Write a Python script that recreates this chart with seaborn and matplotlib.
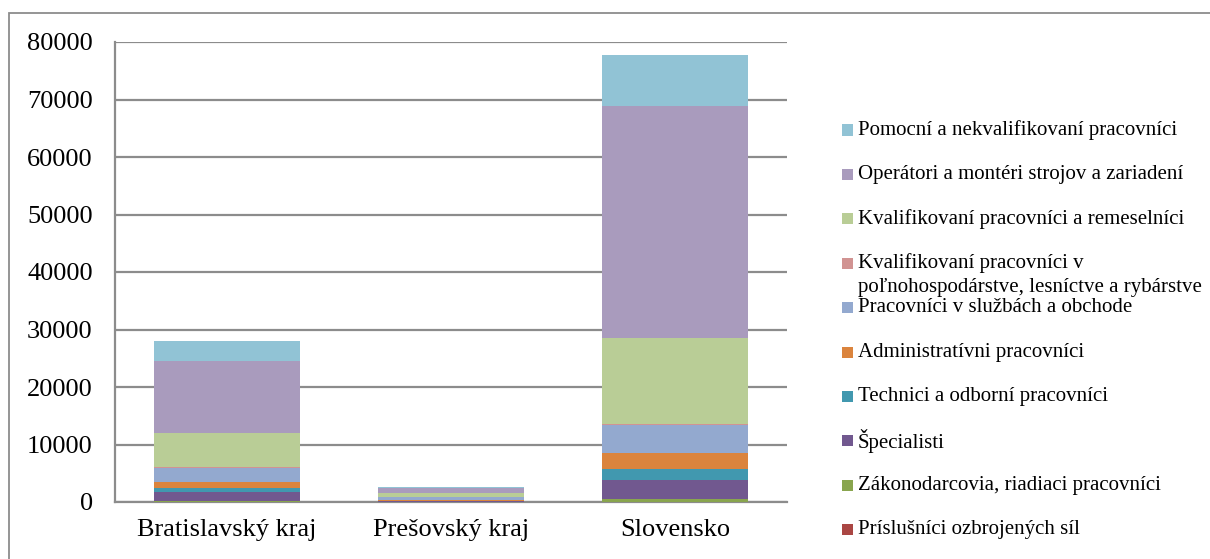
import matplotlib
matplotlib.use("Agg")
import matplotlib.pyplot as plt
import seaborn as sns
import numpy as np
import pandas as pd
from matplotlib.patches import Rectangle

# ---- data ----
regions = ["Bratislavský kraj", "Prešovský kraj", "Slovensko"]
categories = [
    "Príslušníci ozbrojených síl",
    "Zákonodarcovia, riadiaci pracovníci",
    "Špecialisti",
    "Technici a odborní pracovníci",
    "Administratívni pracovníci",
    "Pracovníci v službách a obchode",
    "Kvalifikovaní pracovníci v\npoľnohospodárstve, lesníctve a rybárstve",
    "Kvalifikovaní pracovníci a remeselníci",
    "Operátori a montéri strojov a zariadení",
    "Pomocní a nekvalifikovaní pracovníci",
]
prisl = [20, 10, 40]
zakon = [150, 60, 430]
special = [1630, 110, 3410]
technici = [640, 80, 1860]
admin = [1100, 100, 2780]
sluzby = [2310, 450, 4810]
polno = [240, 50, 235]
remesl = [5850, 700, 14955]
operatori = [12635, 800, 40350]
pomocni = [3425, 290, 8930]
series = [prisl, zakon, special, technici, admin, sluzby, polno, remesl, operatori, pomocni]
colors = ["#AA4643", "#89A54E", "#71588F", "#4198AF", "#DB843D",
          "#93A9CF", "#D19392", "#B9CD96", "#A99BBD", "#91C3D5"]
yticks = [0, 10000, 20000, 30000, 40000, 50000, 60000, 70000, 80000]

W, H = 1210, 559
sns.set_theme(style="white")
plt.rcParams["font.family"] = ["Liberation Serif", "DejaVu Serif"]

fig = plt.figure(figsize=(W / 100, H / 100), dpi=100)
ax = fig.add_axes([115 / W, 1 - 502 / H, (787 - 115) / W, (502 - 42) / H])

cum = np.cumsum(np.array(series, dtype=float), axis=0)
# draw from top layer down so shorter cumulative bars overlay
for i in range(len(series) - 1, -1, -1):
    df = pd.DataFrame({"region": regions, "value": cum[i]})
    sns.barplot(data=df, x="region", y="value", color=colors[i], width=0.65,
                saturation=1, ax=ax, linewidth=0, zorder=3)

ax.set_ylim(0, 80000)
ax.set_yticks(yticks)
ax.set_yticklabels([str(v) for v in yticks])
ax.set_xlim(-0.5, 2.5)
ax.set_xlabel("")
ax.set_ylabel("")
ax.yaxis.grid(True, color="#8c8c8c", linewidth=1.6, zorder=0)
ax.set_axisbelow(True)
for s in ["top", "right"]:
    ax.spines[s].set_visible(False)
for s in ["left", "bottom"]:
    ax.spines[s].set_color("#8c8c8c")
    ax.spines[s].set_linewidth(1.6)
ax.tick_params(axis="y", length=0, pad=16, labelsize=19, colors="black")
ax.tick_params(axis="x", length=0, pad=12, labelsize=19, colors="black")

# figure border
fig.patches.append(Rectangle((9 / W, -0.05), 1.1, 1 - 13 / H + 0.05,
                             transform=fig.transFigure, fill=False,
                             edgecolor="#8c8c8c", linewidth=1.3))

# legend (reverse order, top = Pomocní)
ys = [130 + k * 44.4 for k in range(10)]
for k, i in enumerate(range(len(series) - 1, -1, -1)):
    yc = ys[k]
    fig.patches.append(Rectangle((842 / W, 1 - (yc + 5.5) / H), 11 / W, 11 / H,
                                 transform=fig.transFigure, facecolor=colors[i],
                                 edgecolor="none"))
    for j, line in enumerate(categories[i].split("\n")):
        fig.text(858 / W, 1 - (yc + j * 24) / H, line, fontsize=15,
                 va="center", ha="left", color="black")

fig.savefig("out.png", dpi=100)
